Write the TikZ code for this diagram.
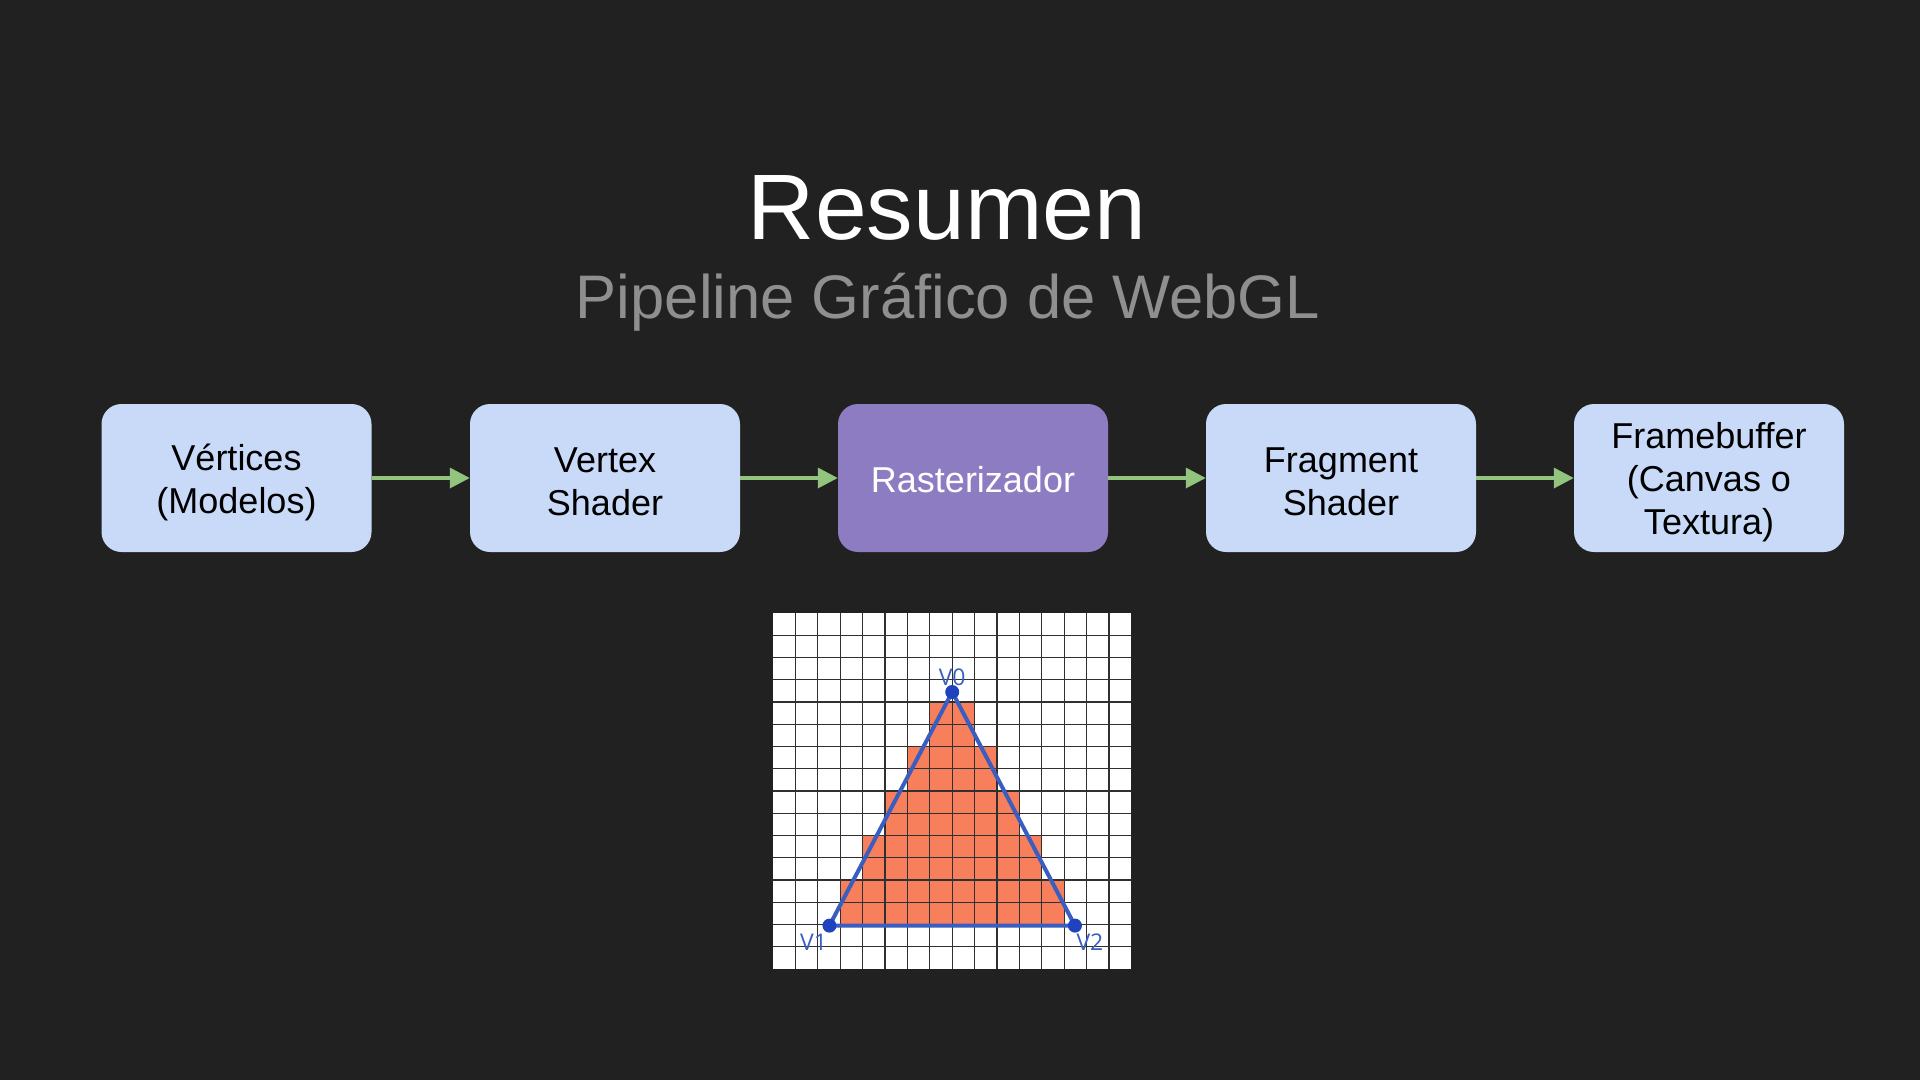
\documentclass[tikz,border=0pt]{standalone}
\usepackage{fontspec}
\setmainfont{Liberation Sans}
\newfontfamily\lblfont{Open Sans}
\usetikzlibrary{arrows.meta}
\definecolor{bg}{HTML}{212121}
\definecolor{boxblue}{HTML}{C9DAF8}
\definecolor{boxpurple}{HTML}{8E7CC3}
\definecolor{arrgreen}{HTML}{93C47D}
\definecolor{subgray}{HTML}{8F8F8F}
\definecolor{cellorange}{HTML}{F77F5B}
\definecolor{triblue}{HTML}{3A5DC0}
\definecolor{dotblue}{HTML}{1E43BD}
\definecolor{gridgray}{HTML}{303030}
\begin{document}
\begin{tikzpicture}[x=1pt,y=-1pt,
  stage/.style={draw=none, fill=boxblue, rounded corners=20pt, minimum width=270pt, minimum height=148pt, inner sep=0pt},
  hot/.style={stage, fill=boxpurple},
  stagetext/.style={inner sep=0pt, align=center, font=\fontsize{36}{43}\selectfont, text=black},
  hottext/.style={stagetext, text=white},
  flow/.style={draw=arrgreen, line width=3.5pt, -{Triangle[length=20pt,width=20pt]}},
  gridline/.style={draw=gridgray, line width=1.1pt},
  cell/.style={fill=cellorange, draw=none},
  edge/.style={draw=triblue, line width=4pt, line join=round},
  vdot/.style={circle, fill=dotblue, inner sep=0pt, minimum size=14pt},
  vlabel/.style={anchor=base, text=triblue, font=\lblfont\fontsize{23}{27}\selectfont, inner sep=0pt}
]
\useasboundingbox (0,0) rectangle (1920,1080);
\fill[bg] (0,0) rectangle (1920,1080);

% titles
\node[anchor=base, text=white, font=\fontsize{93}{100}\selectfont, inner sep=0pt] (title) at (947,239) {Resumen};
\node[anchor=base, text=subgray, font=\fontsize{61.5}{70}\selectfont, inner sep=0pt] (subtitle) at (948,318) {Pipeline Gráfico de WebGL};

% stages
\node[stage] (verts) at (236.5,478) {};
\node[stage] (vshader) at (605,478) {};
\node[hot] (raster) at (973,478) {};
\node[stage] (fshader) at (1341,478) {};
\node[stage] (fbuffer) at (1709,478) {};

\node[stagetext] (t1) at ([yshift=-4pt]verts.center) {Vértices\\(Modelos)};
\node[stagetext] (t2) at ([yshift=-4pt]vshader.center) {Vertex\\Shader};
\node[hottext] (t3) at ([yshift=-1.5pt]raster.center) {Rasterizador};
\node[stagetext] (t4) at ([yshift=-4pt]fshader.center) {Fragment\\Shader};
\node[stagetext] (t5) at ([yshift=-4pt]fbuffer.center) {Framebuffer\\(Canvas o\\Textura)};

\draw[flow] (verts) -- (vshader);
\draw[flow] (vshader) -- (raster);
\draw[flow] (raster) -- (fshader);
\draw[flow] (fshader) -- (fbuffer);

% raster grid
\begin{scope}[shift={(773pt,-613pt)}, x=22.4pt, y=-22.25pt]
  \fill[white] (0,0) rectangle (16,16);
  \fill[cell] (7,4) rectangle (9,6);
  \fill[cell] (6,6) rectangle (10,8);
  \fill[cell] (5,8) rectangle (11,10);
  \fill[cell] (4,10) rectangle (12,12);
  \fill[cell] (3,12) rectangle (13,14);
  \foreach \i in {1,...,15} {
    \draw[gridline] (\i,0) -- (\i,16);
    \draw[gridline] (0,\i) -- (16,\i);
  }
  \coordinate (p0) at (8,3.55);
  \coordinate (p1) at (2.52,14.05);
  \coordinate (p2) at (13.48,14.05);
  \draw[edge] (p0) -- (p1) -- (p2) -- cycle;
  \node[vdot] (d0) at (p0) {};
  \node[vdot] (d1) at (p1) {};
  \node[vdot] (d2) at (p2) {};
  \node[vlabel] (l0) at (8,3.28) {V0};
  \node[vlabel] (l1) at (1.81,15.19) {V1};
  \node[vlabel] (l2) at (14.15,15.19) {V2};
\end{scope}
\end{tikzpicture}
\end{document}
